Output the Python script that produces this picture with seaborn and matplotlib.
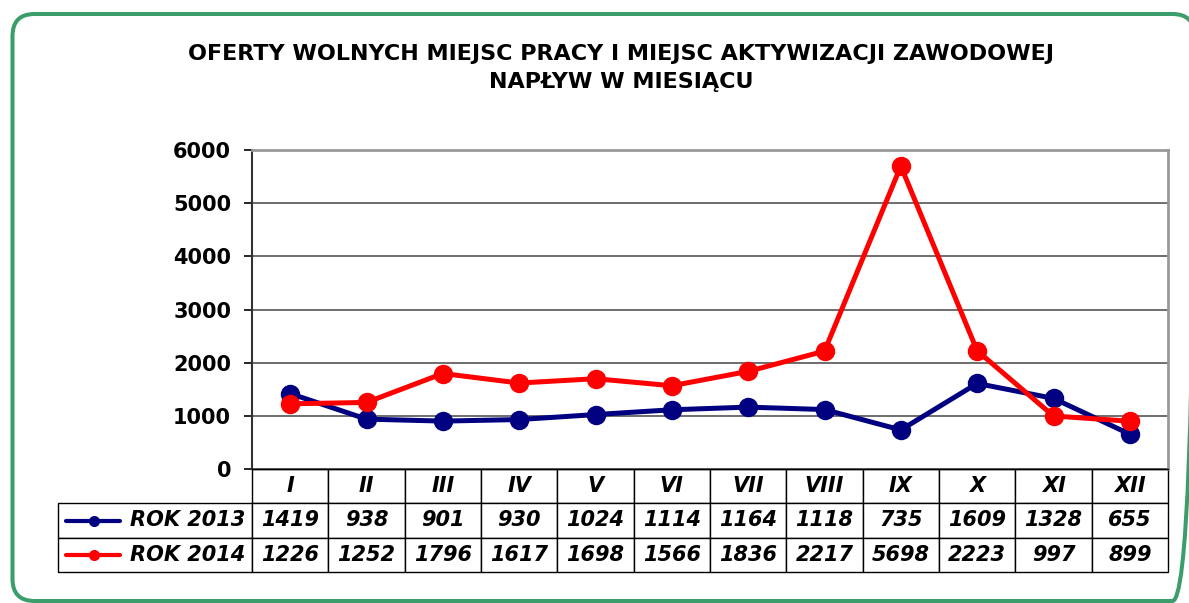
import matplotlib
matplotlib.use("Agg")
import matplotlib.pyplot as plt
import seaborn as sns
import pandas as pd
from matplotlib.patches import FancyBboxPatch
from matplotlib.lines import Line2D

# ------------------------------
# Data
# ------------------------------
months = ["I", "II", "III", "IV", "V", "VI", "VII", "VIII", "IX", "X", "XI", "XII"]
rok_2013 = [1419, 938, 901, 930, 1024, 1114, 1164, 1118, 735, 1609, 1328, 655]
rok_2014 = [1226, 1252, 1796, 1617, 1698, 1566, 1836, 2217, 5698, 2223, 997, 899]
series_names = ["ROK 2013", "ROK 2014"]
colors = ["#000080", "#FF0000"]
title = "OFERTY WOLNYCH MIEJSC PRACY I MIEJSC AKTYWIZACJI ZAWODOWEJ\nNAPŁYW W MIESIĄCU"

df = pd.DataFrame({
    "miesiac": months * 2,
    "wartosc": rok_2013 + rok_2014,
    "rok": [series_names[0]] * len(months) + [series_names[1]] * len(months),
})

sns.set_theme(style="white")
plt.rcParams["font.family"] = ["DejaVu Sans"]
plt.rcParams["text.color"] = "black"
plt.rcParams["ytick.color"] = "black"
plt.rcParams["ytick.labelcolor"] = "black"

W, H = 1189, 603
fig = plt.figure(figsize=(W / 100, H / 100), dpi=100)
fig.patch.set_facecolor("white")

# ------------------------------
# Green rounded frame on a full-figure background axes (pixel units)
# ------------------------------
bg = fig.add_axes([0, 0, 1, 1], zorder=-1)
bg.set_xlim(0, W)
bg.set_ylim(H, 0)
bg.axis("off")
frame = FancyBboxPatch((12.5, 14), 1182, 587,
                       boxstyle="round,pad=0,rounding_size=22",
                       fill=False, edgecolor="#3a9d6a", linewidth=2.9,
                       clip_on=False)
bg.add_patch(frame)

ax = fig.add_axes([252 / W, 1 - 469 / H, 916 / W, 319 / H])

sns.lineplot(data=df, x="miesiac", y="wartosc", hue="rok", palette=colors,
             marker="o", markersize=14, markeredgewidth=0, linewidth=3.6,
             legend=False, ax=ax, sort=False)

ax.set_xlim(-0.5, len(months) - 0.5)
ax.set_ylim(0, 6000)
ax.set_yticks(range(0, 6001, 1000))
ax.set_xticks([])
ax.set_xlabel("")
ax.set_ylabel("")
ax.yaxis.grid(True, color="#555555", linewidth=1.2)
ax.set_axisbelow(True)
for lbl in ax.get_yticklabels():
    lbl.set_fontweight("bold")
    lbl.set_fontsize(15)
    lbl.set_color("black")
ax.tick_params(axis="y", left=True, length=6, width=1.2, color="black", pad=9)

for side in ["top", "right"]:
    ax.spines[side].set_color("#999999")
    ax.spines[side].set_linewidth(2)
ax.spines["left"].set_color("#333333")
ax.spines["left"].set_linewidth(1.5)
ax.spines["bottom"].set_color("black")
ax.spines["bottom"].set_linewidth(1.0)

# ------------------------------
# Data table under the chart
# ------------------------------
label_w = 194 / 916
tab_h = 103 / 319
cell_text = [[""] + months,
             [series_names[0]] + [str(v) for v in rok_2013],
             [series_names[1]] + [str(v) for v in rok_2014]]
col_w = [label_w] + [1.0 / len(months)] * len(months)
table = ax.table(cellText=cell_text, colWidths=col_w, cellLoc="center",
                 bbox=[-label_w, -tab_h, 1 + label_w, tab_h])
table.auto_set_font_size(False)
table.set_fontsize(15)
for (r, c), cell in table.get_celld().items():
    cell.set_edgecolor("black")
    cell.set_linewidth(1.0)
    cell.get_text().set_fontweight("bold")
    cell.get_text().set_fontstyle("italic")
    cell.get_text().set_color("black")
    if r == 0 and c == 0:
        cell.visible_edges = ""
    if r > 0 and c == 0:
        cell._loc = "right"
        cell.PAD = 0.035
        cell.get_text().set_ha("right")

# legend keys inside the row label cells
for i, col in enumerate(colors):
    yc = -tab_h * (1.5 + i) / 3
    key = Line2D([-label_w + 8 / 916, -label_w + 62 / 916], [yc, yc],
                 color=col, linewidth=3, transform=ax.transAxes, clip_on=False)
    dot = Line2D([-label_w + 36 / 916], [yc], marker="o", markersize=8,
                 markeredgewidth=0, color=col, transform=ax.transAxes, clip_on=False)
    ax.add_line(key)
    ax.add_line(dot)

fig.text(621 / W, 1 - 68 / H, title, ha="center", va="center",
         fontsize=16, fontweight="bold", linespacing=1.45)

fig.savefig("out.png", dpi=100)
